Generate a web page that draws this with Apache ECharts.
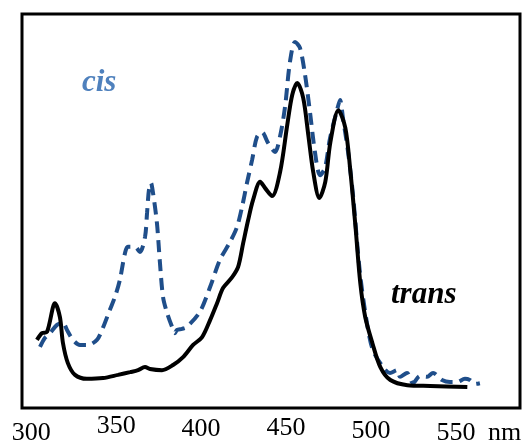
<!DOCTYPE html>
<html>
<head>
<meta charset="utf-8">
<script src="https://cdn.jsdelivr.net/npm/echarts@6/dist/echarts.min.js"></script>
<style>
	html, body { margin: 0; padding: 0; background: #fff; }
	#container { width: 522px; height: 444px; }
</style>
</head>
<body>
<div id="container"></div>
<script>
// wavelength ticks (nm)
var xTicks = [300, 350, 400, 450, 500, 550];

// trans spectrum (solid black)
var transNm = [303.4, 306.4, 309.3, 314.0, 316.9, 318.7, 321.6, 325.8, 332.8, 342.3, 351.1, 358.2, 362.9, 367.0, 369.9, 377.0,
	383.5, 389.4, 395.3, 400.6, 405.3, 409.4, 413.0, 418.3, 421.8, 424.8, 427.7, 430.6, 434.8, 437.7, 441.8, 446.5,
	450.7, 453.6, 456.6, 460.1, 463.1, 466.0, 469.6, 473.1, 476.1, 480.8, 484.9, 487.8, 490.8, 493.7, 496.6, 500.8,
	505.5, 511.4, 521.4, 534.9, 556.7];
var transAbs = [0.173, 0.190, 0.193, 0.266, 0.231, 0.165, 0.114, 0.084, 0.074, 0.076, 0.084, 0.091, 0.096, 0.104, 0.099, 0.096,
	0.109, 0.129, 0.160, 0.180, 0.223, 0.266, 0.305, 0.332, 0.358, 0.419, 0.477, 0.528, 0.574, 0.558, 0.538, 0.599,
	0.718, 0.794, 0.825, 0.787, 0.693, 0.599, 0.533, 0.574, 0.675, 0.756, 0.711, 0.604, 0.464, 0.317, 0.231, 0.165,
	0.104, 0.071, 0.058, 0.056, 0.053];

// cis spectrum (dashed blue)
var cisNm = [305.2, 308.1, 311.1, 315.2, 318.7, 321.1, 324.6, 328.7, 333.4, 338.7, 341.7, 346.3, 349.3, 352.2, 355.2, 356.9,
	361.1, 364.0, 367.0, 368.2, 369.3, 370.5, 371.7, 374.0, 375.8, 377.6, 380.0, 382.9, 384.6, 385.8, 388.8, 391.7,
	399.3, 405.3, 411.1, 417.0, 421.1, 424.1, 427.0, 430.0, 432.9, 435.9, 439.4, 443.5, 446.5, 449.4, 452.3, 455.3,
	458.2, 461.2, 464.1, 467.0, 470.0, 472.9, 475.9, 480.0, 481.8, 483.5, 486.5, 489.4, 493.5, 497.6, 501.1, 507.1,
	511.2, 515.3, 517.1, 521.2, 524.7, 528.8, 533.0, 536.5, 541.8, 546.5, 550.6, 555.3, 558.2, 561.2, 564.1];
var cisAbs = [0.155, 0.178, 0.190, 0.211, 0.216, 0.198, 0.173, 0.160, 0.160, 0.173, 0.198, 0.249, 0.282, 0.325, 0.393, 0.409,
	0.409, 0.396, 0.434, 0.495, 0.553, 0.571, 0.546, 0.470, 0.368, 0.282, 0.241, 0.206, 0.190, 0.198, 0.201, 0.206,
	0.244, 0.307, 0.376, 0.421, 0.459, 0.510, 0.571, 0.629, 0.688, 0.700, 0.673, 0.650, 0.690, 0.764, 0.878, 0.929,
	0.914, 0.845, 0.751, 0.650, 0.591, 0.609, 0.685, 0.756, 0.782, 0.736, 0.650, 0.541, 0.343, 0.216, 0.147, 0.104,
	0.089, 0.096, 0.079, 0.089, 0.063, 0.081, 0.079, 0.089, 0.071, 0.066, 0.066, 0.074, 0.071, 0.061, 0.063];

var app = (function() {
	var dom = document.getElementById('container');
	var myChart = echarts.init(dom, null, { renderer: 'canvas' });
	var serif = '"Liberation Serif", "DejaVu Serif", serif';
	// tick labels in the original sit at slightly different heights
	var labelDrop = { 300: 7, 350: 0, 400: 3, 450: 2, 500: 5, 550: 7 };

	var pairs = function(xs, ys) {
		var data = [];
		for (var i = 0; i < xs.length; i++) {
			data.push([xs[i], ys[i]]);
		}
		return data;
	};

	var rich = {};
	xTicks.forEach(function(v) {
		rich['t' + v] = {
			fontFamily: serif,
			fontSize: 26,
			color: '#000',
			padding: [labelDrop[v] || 0, 0, 0, 0]
		};
	});

	var option = {
		backgroundColor: '#fff',
		animation: false,
		grid: {
			left: 22,
			top: 14,
			right: 2,
			bottom: 36,
			outerBoundsMode: 'none',
			containLabel: false,
			show: true,
			borderColor: '#000',
			borderWidth: 3,
			backgroundColor: 'transparent'
		},
		xAxis: {
			type: 'value',
			min: 294.6,
			max: 587.7,
			name: 'nm',
			nameLocation: 'end',
			nameGap: -32,
			nameTextStyle: {
				fontFamily: serif,
				fontSize: 26,
				color: '#000',
				verticalAlign: 'top',
				padding: [12, 0, 0, 0]
			},
			axisLine: { show: false },
			axisTick: { show: false },
			splitLine: { show: false },
			axisLabel: {
				customValues: xTicks,
				margin: 5,
				fontFamily: serif,
				fontSize: 26,
				color: '#000',
				formatter: function(value) {
					return '{t' + value + '|' + value + '}';
				},
				rich: rich
			}
		},
		yAxis: {
			type: 'value',
			min: 0,
			max: 1,
			show: false,
			splitLine: { show: false }
		},
		graphic: [{
			type: 'text',
			left: 82,
			top: 67,
			style: {
				text: 'cis',
				font: 'italic bold 31px ' + serif,
				fill: '#4f81bd'
			}
		}, {
			type: 'text',
			left: 391,
			top: 279,
			style: {
				text: 'trans',
				font: 'italic bold 31px ' + serif,
				fill: '#000'
			}
		}],
		series: [{
			name: 'cis',
			type: 'line',
			data: pairs(cisNm, cisAbs),
			smooth: 0.3,
			showSymbol: false,
			silent: true,
			z: 2,
			lineStyle: {
				color: '#1f4e8a',
				width: 4,
				type: [12, 7]
			}
		}, {
			name: 'trans',
			type: 'line',
			data: pairs(transNm, transAbs),
			smooth: 0.3,
			showSymbol: false,
			silent: true,
			z: 3,
			lineStyle: {
				color: '#000',
				width: 4
			}
		}]
	};

	myChart.setOption(option);
	return {
		resize: function() {
			myChart.resize();
		}
	};
})();

window.addEventListener('resize', function() {
	app.resize();
});
</script>
</body>
</html>
